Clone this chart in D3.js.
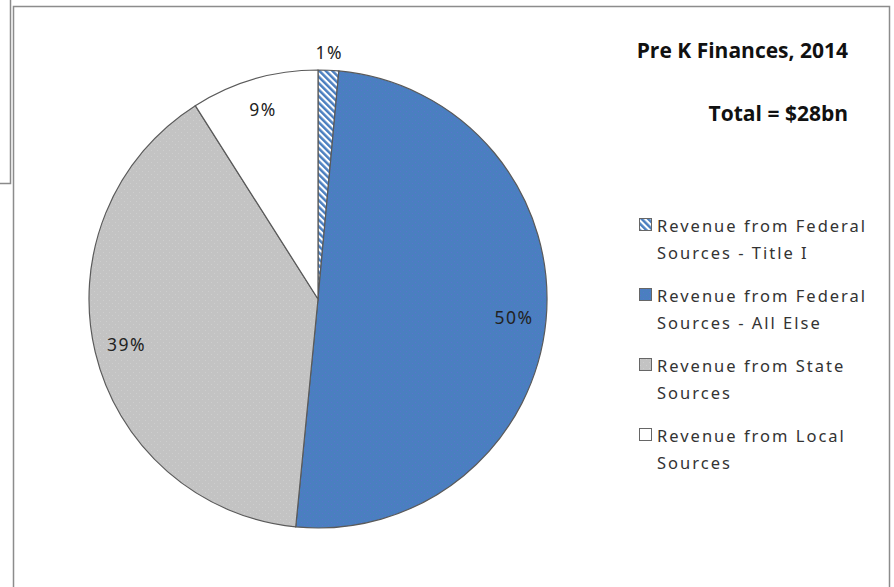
<!DOCTYPE html>
<html>
<head>
<meta charset="utf-8">
<script src="https://cdn.jsdelivr.net/npm/d3@7"></script>
<style>
  body { margin: 0; background: #fff; }
  svg { display: block; }
</style>
</head>
<body>
<div id="viz"></div>
<script>
const width = 894;
const height = 587;

// data (share of total, %)
const categories = [
    "Revenue from Federal Sources - Title I",
    "Revenue from Federal Sources - All Else",
    "Revenue from State Sources",
    "Revenue from Local Sources"
];
const legendLines = [
    ["Revenue from Federal", "Sources - Title I"],
    ["Revenue from Federal", "Sources - All Else"],
    ["Revenue from State", "Sources"],
    ["Revenue from Local", "Sources"]
];
const shares = [1.45, 50.1, 39.45, 9.0];
const titleText = "Pre K Finances, 2014";
const totalText = "Total = $28bn";

const svg = d3.select("#viz")
    .append("svg")
    .attr("width", width)
    .attr("height", height);

const defs = svg.append("defs");
const hatch = defs.append("pattern")
    .attr("id", "hatch")
    .attr("patternUnits", "userSpaceOnUse")
    .attr("width", 4.6)
    .attr("height", 4.6)
    .attr("patternTransform", "rotate(-45)");
hatch.append("rect").attr("width", 4.6).attr("height", 4.6).attr("fill", "#fff");
hatch.append("rect").attr("width", 2.5).attr("height", 4.6).attr("fill", "#4a7ebf");

// faint dotted texture like the original fills
const dotted = (id, base, dot) => {
    const p = defs.append("pattern")
        .attr("id", id)
        .attr("patternUnits", "userSpaceOnUse")
        .attr("width", 6)
        .attr("height", 6);
    p.append("rect").attr("width", 6).attr("height", 6).attr("fill", base);
    p.append("rect").attr("x", 1).attr("y", 1).attr("width", 1).attr("height", 1).attr("fill", dot);
    p.append("rect").attr("x", 4).attr("y", 4).attr("width", 1).attr("height", 1).attr("fill", dot);
};
dotted("blueTex", "#4a7fc0", "#5a72cf");
dotted("greyTex", "#c3c3c3", "#cecece");

const fills = ["url(#hatch)", "url(#blueTex)", "url(#greyTex)", "#ffffff"];

// window edge behind the chart
svg.append("path")
    .attr("d", "M10.5,0 V183.5 H0")
    .attr("fill", "none")
    .attr("stroke", "#8a8a8a")
    .attr("stroke-width", 1.5);

// chart frame
svg.append("rect")
    .attr("x", 13.5)
    .attr("y", 6.5)
    .attr("width", 876)
    .attr("height", 600)
    .attr("fill", "#fff")
    .attr("stroke", "#8c8c8c")
    .attr("stroke-width", 1.5);

const cx = 318, cy = 299, radius = 229;

const pie = d3.pie().sort(null).value(d => d);
const arcs = pie(shares);
const total = d3.sum(shares);
const arc = d3.arc().innerRadius(0).outerRadius(radius);
const labelArc = d3.arc().innerRadius(radius * 0.86).outerRadius(radius * 0.86);
const outArc = d3.arc().innerRadius(radius + 18).outerRadius(radius + 18);
const pct = d3.format(".0%");

const g = svg.append("g").attr("transform", `translate(${cx},${cy})`);

g.selectAll("path.slice").data(arcs)
    .enter().append("path")
        .attr("class", "slice")
        .attr("d", arc)
        .attr("fill", (d, i) => fills[i])
        .attr("stroke", "#5a5a5a")
        .attr("stroke-width", 1.2);

g.selectAll("text.lbl").data(arcs)
    .enter().append("text")
        .attr("class", "lbl")
        .attr("transform", d => {
            const p = (d.value / total < 0.03) ? outArc.centroid(d) : labelArc.centroid(d);
            return `translate(${p[0]},${p[1]})`;
        })
        .attr("text-anchor", "middle")
        .attr("dy", "0.36em")
        .attr("font-family", "'Noto Sans', sans-serif")
        .attr("font-size", 17.5)
        .attr("letter-spacing", 1.5)
        .attr("fill", "#222")
        .text(d => pct(d.value / total));

// titles
svg.append("text")
    .attr("x", 848)
    .attr("y", 58)
    .attr("text-anchor", "end")
    .attr("font-family", "'Open Sans', sans-serif")
    .attr("font-weight", "bold")
    .attr("font-size", 21)
    .attr("fill", "#111")
    .text(titleText);

svg.append("text")
    .attr("x", 848)
    .attr("y", 121)
    .attr("text-anchor", "end")
    .attr("font-family", "'Open Sans', sans-serif")
    .attr("font-weight", "bold")
    .attr("font-size", 21)
    .attr("fill", "#111")
    .text(totalText);

// legend
const legend = svg.append("g").attr("transform", "translate(639,218)");
const item = legend.selectAll("g").data(categories)
    .enter().append("g")
        .attr("transform", (d, i) => `translate(0,${i * 70})`);

item.append("rect")
    .attr("x", 0.5)
    .attr("y", 0.5)
    .attr("width", 12)
    .attr("height", 12)
    .attr("fill", (d, i) => fills[i])
    .attr("stroke", "#666")
    .attr("stroke-width", 1);

item.each(function(d, i) {
    const t = d3.select(this).append("text")
        .attr("font-family", "'Noto Sans', sans-serif")
        .attr("font-size", 16.5)
        .attr("letter-spacing", 2)
        .attr("fill", "#333");
    legendLines[i].forEach((line, j) => {
        t.append("tspan")
            .attr("x", 18)
            .attr("y", 14 + j * 27)
            .text(line);
    });
});
</script>
</body>
</html>
